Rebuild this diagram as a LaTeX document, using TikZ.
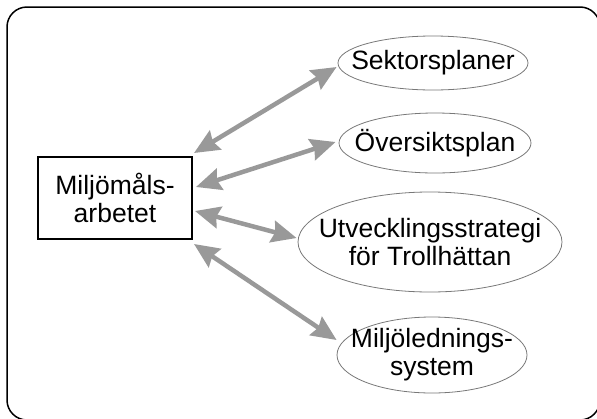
\documentclass[tikz,border=0pt]{standalone}
\usepackage{fontspec}
\setmainfont{Liberation Sans}
\usetikzlibrary{shapes.geometric,arrows.meta,calc}
\definecolor{arrowgray}{RGB}{153,153,153}
\definecolor{ellgray}{RGB}{120,120,120}
\begin{document}
\begin{tikzpicture}[x=1pt,y=-1pt,
  lbl/.style={font=\fontsize{26.5}{28}\selectfont, align=center, inner sep=0pt},
  box/.style={lbl, draw=black, line width=2pt, minimum width=154pt, minimum height=82pt},
  oval/.style={ellipse, draw=ellgray, line width=0.8pt, inner sep=0pt},
  link/.style={draw=arrowgray, line width=4.5pt, {Stealth[length=25pt,width=22pt,inset=3pt]}-{Stealth[length=25pt,width=22pt,inset=3pt]}}]
\useasboundingbox (0,0) rectangle (597,418);
\clip (0,0) rectangle (597,418);
\draw[line width=1.5pt, rounded corners=20pt] (7,7) rectangle (600,420);

\node[box] (m) at (115,198) {Miljömåls-\\arbetet};

\node[oval, minimum width=190pt, minimum height=54pt] (sek) at (433,63) {};
\node[lbl] (sekT) at (sek.center) {Sektorsplaner};
\node[oval, minimum width=192pt, minimum height=60pt] (ovr) at (435,143) {};
\node[lbl] (ovrT) at (ovr.center) {Översiktsplan};
\node[oval, minimum width=264pt, minimum height=100pt] (utv) at (430,242) {};
\node[lbl] (utvT) at (utv.center) {Utvecklingsstrategi\\för Trollhättan};
\node[oval, minimum width=190pt, minimum height=76pt] (mil) at (432,355) {};
\node[lbl] (milT) at (mil.center) {Miljölednings-\\system};

\draw[link] ($(m.north east)+(1,-3)$) -- ($(sek.west)+(-1,4)$);
\draw[link] ($(m.east)+(3,-11)$) -- ($(ovr.west)+(-3,-1)$);
\draw[link] ($(m.east)+(2,13)$) -- ($(utv.west)+(-1,-4)$);
\draw[link] ($(m.south east)+(1,4)$) -- ($(mil.west)+(0,-15)$);
\end{tikzpicture}
\end{document}
